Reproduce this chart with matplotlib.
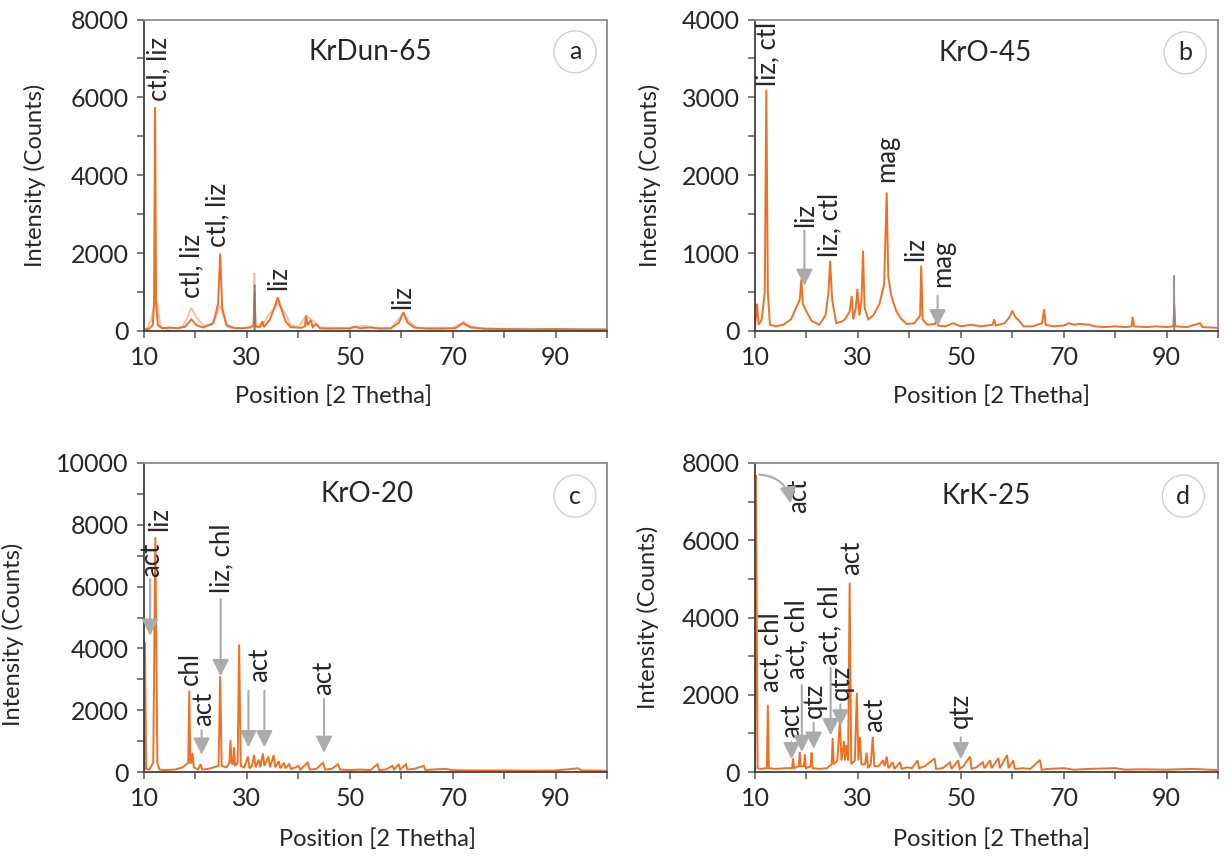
import matplotlib
matplotlib.use('Agg')
import matplotlib.pyplot as plt
from matplotlib.ticker import MultipleLocator

plt.rcParams['font.family'] = ['Lato', 'DejaVu Sans']

# ---------------- data ----------------
x_major = [10, 30, 50, 70, 90]
titles = ['KrDun-65', 'KrO-45', 'KrO-20', 'KrK-25']
panel_letters = ['a', 'b', 'c', 'd']
y_max = [8000, 4000, 10000, 8000]
y_major_step = [2000, 1000, 2000, 2000]

# panel a: main orange trace (2theta, counts)
a_main = [(10.0, 30), (11.0, 60), (11.7, 150), (11.95, 700), (12.15, 5750), (12.35, 700), (12.7, 150),
          (13.5, 70), (15, 90), (16.5, 70), (18, 110), (19.2, 300), (20.2, 150), (21.5, 90), (23.5, 200),
          (24.4, 700), (24.8, 1990), (25.2, 600), (26, 150), (27.5, 80), (29, 70), (30.5, 90), (31.3, 150),
          (31.5, 1000), (31.7, 120), (32.5, 100), (33.0, 250), (33.3, 100), (34.5, 300), (35.5, 650),
          (36.0, 860), (36.5, 650), (37.5, 250), (38.5, 100), (40.5, 80), (41.3, 120), (41.5, 390),
          (41.8, 150), (42.4, 280), (42.8, 100), (43.5, 180), (44.2, 70), (46, 60), (48, 70), (50, 60),
          (51, 110), (52, 70), (54, 90), (56, 60), (58, 70), (59.6, 220), (60.4, 480), (61.2, 220),
          (62.5, 90), (65, 60), (68, 60), (70.5, 70), (72, 200), (73.5, 90), (76, 60), (80, 50), (85, 40),
          (90, 50), (95, 40), (100, 40)]
# panel a: light (broad) trace
a_light = [(10.0, 0), (10.8, 100), (11.5, 350), (12.0, 700), (12.6, 700), (13.2, 100), (14.5, 50),
           (17.5, 100), (18.6, 400), (19.2, 600), (20.2, 350), (21.5, 150), (23, 150), (24.2, 450),
           (24.8, 660), (25.5, 400), (26.3, 100), (28, 60), (31.3, 100), (31.45, 1490), (31.6, 100),
           (33, 150), (34.5, 450), (36, 700), (37.5, 450), (38.5, 150), (40, 100), (41.5, 395), (43, 250),
           (44, 100), (48, 60), (51, 110), (53, 130), (55, 80), (58, 80), (59.5, 300), (60.4, 470),
           (61.5, 250), (63, 80), (70, 80), (71.5, 180), (72.2, 230), (73.5, 120), (76, 60), (100, 40)]
a_gray = [(31.45, 0), (31.5, 1190), (31.55, 0)]

# panel b
b_main = [(10.0, 50), (10.4, 350), (10.7, 80), (11.3, 150), (11.9, 500), (12.2, 3100), (12.5, 500),
          (12.9, 80), (14, 60), (15.5, 80), (17, 150), (18, 300), (18.7, 400), (19.0, 665), (19.3, 350),
          (20, 250), (21, 130), (22.5, 80), (23.7, 200), (24.3, 500), (24.6, 905), (25.0, 400),
          (25.8, 100), (26.8, 120), (27.5, 150), (28.4, 250), (28.8, 450), (29.1, 150), (29.6, 300),
          (29.9, 540), (30.3, 200), (30.7, 400), (31.0, 1030), (31.3, 300), (32, 150), (33, 200),
          (34.2, 350), (35.1, 600), (35.6, 1780), (35.9, 700), (36.5, 450), (37.5, 250), (38.5, 150),
          (39.5, 90), (41, 100), (42.1, 200), (42.3, 840), (42.6, 150), (43.5, 80), (45.0, 90),
          (45.3, 150), (45.6, 70), (47, 60), (48.5, 100), (50, 60), (52, 80), (54, 60), (56.2, 80),
          (56.5, 150), (56.8, 70), (58.5, 100), (59.5, 180), (60.0, 260), (60.6, 180), (61.5, 120),
          (62.2, 60), (64, 60), (65.8, 100), (66.2, 280), (66.5, 80), (68, 60), (70, 70), (71, 100),
          (72, 80), (73, 90), (75, 80), (76, 60), (78, 50), (80, 60), (82, 50), (83.2, 60), (83.4, 180),
          (83.7, 60), (86, 50), (88, 60), (90, 50), (91.3, 60), (91.5, 340), (91.7, 60), (94, 50),
          (96.5, 100), (97, 50), (100, 40)]
b_gray = [(91.45, 0), (91.5, 714), (91.55, 0)]

# panel c
c_main = [(10.0, 0), (10.2, 4200), (10.4, 100), (11, 80), (11.8, 300), (12.2, 7600), (12.6, 300),
          (13, 80), (14, 60), (16, 80), (17.5, 150), (18.6, 300), (18.8, 2630), (19.0, 300), (19.2, 300),
          (19.4, 620), (19.7, 150), (20.5, 80), (21.0, 250), (21.3, 80), (22.5, 100), (23.5, 150),
          (24.5, 200), (24.8, 3100), (25.1, 200), (26, 150), (26.6, 300), (26.8, 1030), (27.0, 300),
          (27.3, 250), (27.5, 800), (27.7, 200), (28.2, 300), (28.5, 4130), (28.8, 200), (29.5, 150),
          (30.2, 500), (30.5, 120), (31.0, 200), (31.4, 550), (31.7, 150), (32.3, 400), (32.6, 150),
          (33.1, 600), (33.4, 200), (34.2, 500), (34.5, 150), (35.2, 550), (35.5, 150), (36.2, 350),
          (36.5, 120), (37.2, 300), (37.5, 120), (38.2, 250), (38.6, 100), (39.5, 150), (40.0, 200),
          (40.4, 80), (41.8, 300), (42.2, 80), (43.5, 100), (44.8, 300), (45.2, 80), (46.5, 100),
          (47.7, 250), (48.1, 80), (50, 60), (52, 80), (54, 60), (55.4, 250), (55.7, 60), (57, 80),
          (58.3, 200), (58.6, 80), (59.5, 250), (59.8, 80), (60.9, 250), (61.2, 80), (62.5, 100),
          (64.4, 200), (64.7, 60), (66, 80), (68.7, 100), (70, 60), (75, 50), (80, 50), (85, 40),
          (90, 50), (94.4, 120), (95, 50), (100, 40)]

# panel d
d_main = [(10.0, 0), (10.2, 7700), (10.5, 100), (11, 80), (12.3, 100), (12.5, 1740), (12.7, 100),
          (14, 80), (16, 100), (17.2, 100), (17.4, 350), (17.6, 100), (18.5, 150), (18.7, 520),
          (18.9, 150), (19.5, 150), (19.7, 450), (19.9, 100), (20.8, 150), (21.0, 500), (21.2, 100),
          (22.5, 80), (24, 100), (24.9, 200), (25.1, 880), (25.3, 200), (26.0, 300), (26.5, 1300),
          (26.8, 300), (27.3, 800), (27.5, 300), (27.8, 700), (28.1, 300), (28.4, 4900), (28.7, 200),
          (29.4, 300), (29.8, 2050), (30.1, 300), (30.4, 900), (30.7, 200), (31.4, 200), (31.7, 500),
          (32.0, 100), (32.5, 200), (32.9, 910), (33.2, 150), (34, 150), (34.9, 300), (35.2, 150),
          (35.6, 400), (35.9, 100), (36.8, 250), (37.1, 80), (38.2, 250), (38.5, 80), (39.5, 120),
          (40.5, 100), (41.6, 300), (41.9, 100), (43, 150), (44.9, 350), (45.2, 80), (46.5, 100),
          (47.9, 250), (48.2, 80), (49.5, 300), (49.8, 80), (50.5, 150), (51.8, 400), (52.1, 80),
          (53, 120), (54.3, 250), (54.6, 100), (55.7, 300), (56, 100), (57.3, 360), (57.6, 100),
          (59.0, 440), (59.3, 100), (60.2, 300), (60.5, 80), (62, 100), (63.5, 80), (65.4, 310),
          (65.7, 60), (67, 80), (70, 100), (72, 60), (75, 80), (80, 100), (82, 60), (85, 70), (90, 60),
          (95, 80), (100, 50)]

# peak labels: (text, centre 2theta, bottom of text in counts)
a_labels = [('ctl, liz', 12.8, 5900), ('ctl, liz', 19.3, 850), ('ctl, liz', 24.3, 2150),
            ('liz', 36.1, 1050), ('liz', 60.3, 570)]
b_labels = [('liz, ctl', 12.4, 3150), ('liz', 19.8, 1330), ('liz, ctl', 24.5, 950),
            ('mag', 35.5, 1910), ('liz', 41.2, 900), ('mag', 46.4, 560)]
c_labels = [('liz', 13.0, 7800), ('act', 11.4, 6300), ('chl', 19.0, 2800), ('act', 21.5, 1500),
            ('liz, chl', 25.1, 5800), ('act', 32.5, 2900), ('act', 44.9, 2480)]
d_labels = [('act', 18.5, 6710), ('act, chl', 13.0, 2080), ('act', 17.1, 880), ('act, chl', 18.2, 2400),
            ('qtz', 21.6, 1400), ('act, chl', 24.5, 2780), ('qtz', 26.7, 1870), ('act', 28.7, 5100),
            ('act', 33.3, 1030), ('qtz', 50.0, 1140)]

# grey arrows: (2theta, start counts, tip counts)
b_arrows = [(19.6, 1290, 580), (45.5, 450, 60)]
c_arrows = [(11.2, 6240, 4410), (21.2, 1350, 560), (24.9, 5590, 3100), (30.3, 2630, 800),
            (33.4, 2630, 800), (45.0, 2370, 620)]
d_arrows = [(17.1, 780, 330), (19.1, 2250, 520), (21.4, 1270, 600), (24.7, 2700, 950),
            (26.6, 1750, 1180), (50.0, 900, 330)]
d_curved_arrow = [(10.8, 7700), (16.9, 6950)]

# ---------------- drawing ----------------
W, H = 1229, 865
fig = plt.figure(figsize=(W / 100, H / 100), dpi=100)
fig.patch.set_facecolor('white')

# axes boxes in pixels: left, right, bottom, top
boxes = [(144, 607, 331, 19.5), (755, 1218, 331, 19.5), (144, 607, 772, 463), (755, 1218, 772, 463)]
axes = []
for (x0, x1, yb, yt) in boxes:
    axes.append(fig.add_axes([x0 / W, 1 - yb / H, (x1 - x0) / W, (yb - yt) / H]))

ORANGE = '#F07022'
LIGHT = '#F5BFA8'
GRAY_ARROW = '#A9ABAD'
TXT = '#262626'
ARROW_STYLE = '-|>,head_length=0.5,head_width=0.25'

title_pos = [(0.488, 0.896), (0.497, 0.893), (0.482, 0.900), (0.500, 0.893)]
circle_pos = [(0.931, 0.896), (0.929, 0.893), (0.931, 0.893), (0.925, 0.893)]
xlabel_pos = [(0.41, -54 / 311.5), (0.51, -54 / 311.5), (0.505, -56 / 309), (0.51, -56 / 309)]
ylabel_pos = [(-0.212, 0.50), (-0.203, 0.50), (-0.26, 0.447), (-0.207, 0.50)]

traces = [[(a_light, LIGHT, 1.4), (a_main, ORANGE, 1.4), (a_gray, '#8A7468', 1.0)],
          [(b_main, ORANGE, 1.4), (b_gray, '#8A8A8A', 1.0)],
          [(c_main, ORANGE, 1.4)],
          [(d_main, ORANGE, 1.4)]]
labels = [a_labels, b_labels, c_labels, d_labels]
arrows = [[], b_arrows, c_arrows, d_arrows]

for i, ax in enumerate(axes):
    for pts, col, lw in traces[i]:
        xs = [p[0] for p in pts]
        ys = [p[1] for p in pts]
        ax.plot(xs, ys, color=col, lw=lw, solid_joinstyle='miter')
    ax.set_xlim(10, 100)
    ax.set_ylim(0, y_max[i])
    ax.set_xticks(x_major)
    ax.xaxis.set_minor_locator(MultipleLocator(10))
    ax.yaxis.set_major_locator(MultipleLocator(y_major_step[i]))
    ax.yaxis.set_minor_locator(MultipleLocator(y_major_step[i] / 2))
    ax.tick_params(which='both', direction='out', length=5, width=1.1, color='#595959',
                   labelsize=18, labelcolor=TXT, pad=6)
    for s in ['left', 'bottom']:
        ax.spines[s].set_color('#404040')
        ax.spines[s].set_linewidth(1.3)
    for s in ['top', 'right']:
        ax.spines[s].set_color('#8C8C8C')
        ax.spines[s].set_linewidth(1.3)
    ax.set_xlabel('Position [2 Thetha]', fontsize=17, color=TXT)
    ax.set_ylabel('Intensity (Counts)', fontsize=17, color=TXT)
    ax.xaxis.set_label_coords(*xlabel_pos[i])
    ax.yaxis.set_label_coords(*ylabel_pos[i])
    ax.text(*title_pos[i], titles[i], transform=ax.transAxes, ha='center', va='center',
            fontsize=20, color=TXT)
    ax.text(*circle_pos[i], panel_letters[i], transform=ax.transAxes, ha='center', va='center',
            fontsize=18, color=TXT,
            bbox=dict(boxstyle='circle,pad=0.38', fc='white', ec='#CFCFCF', lw=1.0))
    for s, x, y in labels[i]:
        ax.text(x, y, s, rotation=90, ha='center', va='bottom', fontsize=18.5, color=TXT)
    for x, y0, y1 in arrows[i]:
        ax.annotate('', xy=(x, y1), xytext=(x, y0),
                    arrowprops=dict(arrowstyle=ARROW_STYLE, color=GRAY_ARROW, lw=1.5,
                                    shrinkA=0, shrinkB=0, mutation_scale=20))

# curved arrow in panel d
axes[3].annotate('', xy=d_curved_arrow[1], xytext=d_curved_arrow[0],
                 arrowprops=dict(arrowstyle=ARROW_STYLE, color=GRAY_ARROW, lw=1.5,
                                 shrinkA=0, shrinkB=0, mutation_scale=20,
                                 connectionstyle='arc3,rad=-0.4'))

fig.savefig('out.png', dpi=100, facecolor='white')
